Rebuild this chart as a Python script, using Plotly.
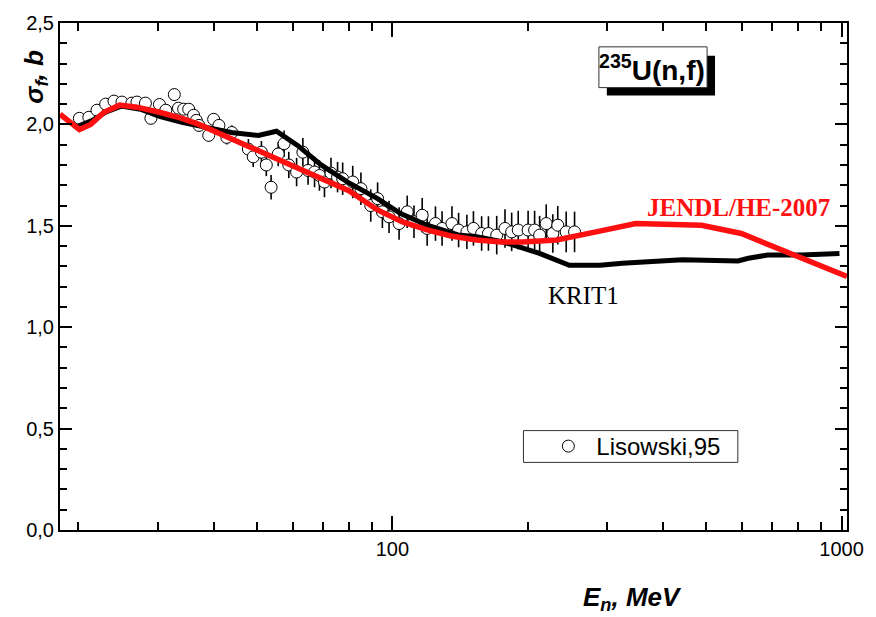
import plotly.graph_objects as go
import math

# ---------------- data ----------------
krit_E = [19.95, 21.5, 23.0, 24.9, 27.5, 30.3, 34.0, 39.0, 43.8, 50.3, 55.2, 61.6, 69.4, 79.5,
          92.7, 104.3, 119.5, 140.0, 154.0, 176.6, 212.6, 247.7, 290.0, 325.0, 442.0, 588.0,
          620.0, 685.0, 814.0, 989.0]
krit_s = [1.99, 2.02, 2.06, 2.09, 2.075, 2.04, 2.01, 1.98, 1.96, 1.945, 1.966, 1.895, 1.80, 1.715,
          1.634, 1.56, 1.503, 1.455, 1.446, 1.42, 1.364, 1.305, 1.305, 1.315, 1.332, 1.327,
          1.34, 1.356, 1.356, 1.364]

jendl_E = [18.2, 20.1, 21.3, 22.8, 24.7, 27.0, 30.3, 34.0, 37.1, 45.0, 52.0, 60.0, 70.0, 80.0,
           92.7, 105.0, 119.5, 135.0, 154.0, 175.0, 195.0, 232.0, 284.0, 348.0, 488.0, 598.0, 1028.0]
jendl_s = [2.05, 1.975, 2.00, 2.06, 2.095, 2.085, 2.06, 2.03, 2.00, 1.918, 1.857, 1.796, 1.731, 1.673,
           1.578, 1.52, 1.48, 1.45, 1.43, 1.42, 1.42, 1.43, 1.47, 1.511, 1.503, 1.462, 1.25]

lis_E = [20.1, 21.1, 22.0, 23.0, 24.0, 25.0, 26.3, 27.0, 28.2, 29.0,
         30.3, 31.3, 32.7, 33.4, 34.3, 35.2, 36.1, 36.6, 37.1, 39.0,
         40.0, 41.1, 42.8, 43.9, 47.8, 49.0, 51.1, 52.4, 53.7, 55.7,
         57.4, 58.8, 61.2, 63.2, 64.9, 67.1, 68.8, 70.6, 73.0, 75.5,
         77.5, 81.6, 85.1, 89.5, 92.7, 95.0, 98.3, 103.5, 107.9, 111.7,
         116.5, 119.5, 124.7, 129.0, 135.7, 140.4, 146.5, 151.5, 158.0, 163.6,
         170.7, 178.1, 184.3, 190.6, 200.5, 207.3, 212.7, 220.0, 227.6, 233.4,
         243.7, 254.4]
lis_s = [2.03, 2.035, 2.07, 2.10, 2.115, 2.11, 2.105, 2.11, 2.105, 2.03,
         2.098, 2.07, 2.147, 2.08, 2.075, 2.075, 2.045, 2.02, 1.995, 1.946,
         2.025, 1.995, 1.936, 1.96, 1.878, 1.84, 1.863, 1.80, 1.69, 1.854,
         1.905, 1.80, 1.765, 1.863, 1.773, 1.765, 1.748, 1.716, 1.76, 1.74,
         1.732, 1.716, 1.683, 1.60, 1.634, 1.569, 1.544, 1.511, 1.569, 1.52,
         1.552, 1.487, 1.511, 1.487, 1.511, 1.479, 1.47, 1.487, 1.462, 1.462,
         1.454, 1.487, 1.47, 1.479, 1.479, 1.479, 1.454, 1.511, 1.462, 1.503,
         1.47, 1.47]
lis_err = [0.02, 0.02, 0.02, 0.02, 0.02, 0.02, 0.02, 0.02, 0.02, 0.02,
           0.025, 0.025, 0.03, 0.025, 0.025, 0.025, 0.025, 0.03, 0.03, 0.03,
           0.03, 0.03, 0.035, 0.035, 0.05, 0.05, 0.055, 0.055, 0.06, 0.06,
           0.065, 0.065, 0.07, 0.07, 0.07, 0.075, 0.075, 0.075, 0.075, 0.075,
           0.08, 0.08, 0.08, 0.08, 0.08, 0.08, 0.08, 0.08, 0.08, 0.08,
           0.085, 0.085, 0.085, 0.085, 0.085, 0.085, 0.085, 0.085, 0.085, 0.085,
           0.095, 0.095, 0.095, 0.095, 0.095, 0.095, 0.095, 0.095, 0.095, 0.095,
           0.1, 0.1]

xtick_vals = [100, 1000]
xtick_text = ["100", "1000"]
xminor_vals = [20, 30, 40, 50, 60, 70, 80, 90, 200, 300, 400, 500, 600, 700, 800, 900]
ytick_vals = [0.0, 0.5, 1.0, 1.5, 2.0, 2.5]
ytick_text = ["0,0", "0,5", "1,0", "1,5", "2,0", "2,5"]
x_min, x_max = 18.2, 1028.0

# ---------------- layout helpers ----------------
W, H = 876, 617
L, R, T, B = 60, 853, 20, 530
def px(x):
    return (x - L) / (R - L)
def py(y):
    return (B - y) / (B - T)

SANS = "Arial, Liberation Sans, sans-serif"
SERIF = "Times New Roman, Liberation Serif, serif"

fig = go.Figure()

fig.add_trace(go.Scatter(
    x=lis_E, y=lis_s, mode="markers", name="Lisowski,95",
    marker=dict(symbol="circle", size=12, color="white", line=dict(color="black", width=1)),
    error_y=dict(type="data", array=lis_err, visible=True, color="black", thickness=1.6, width=0),
))
fig.add_trace(go.Scatter(
    x=krit_E, y=krit_s, mode="lines", name="KRIT1", showlegend=False,
    line=dict(color="black", width=5),
))
fig.add_trace(go.Scatter(
    x=jendl_E, y=jendl_s, mode="lines", name="JENDL/HE-2007", showlegend=False,
    line=dict(color="#ff1010", width=5.5),
))

axis_common = dict(showline=True, linecolor="black", linewidth=2, mirror="allticks",
                   ticks="inside", tickcolor="black", tickwidth=1.5, showgrid=False,
                   zeroline=False, tickfont=dict(family=SANS, size=20, color="black"))

fig.update_xaxes(type="log", range=[math.log10(x_min), math.log10(x_max)],
                 tickmode="array", tickvals=xtick_vals, ticktext=xtick_text, ticklen=14,
                 minor=dict(tickmode="array", tickvals=xminor_vals, ticks="inside", ticklen=8,
                            tickcolor="black", tickwidth=1.5, showgrid=False),
                 **axis_common)
fig.update_yaxes(range=[0, 2.5], tickmode="array", tickvals=ytick_vals, ticktext=ytick_text,
                 ticklen=12,
                 minor=dict(dtick=0.1, ticks="inside", ticklen=7, tickcolor="black",
                            tickwidth=1.5, showgrid=False),
                 **axis_common)

shapes = [
    # title box shadow and box
    dict(type="rect", xref="paper", yref="paper", x0=px(611), x1=px(720), y0=py(93), y1=py(53),
         fillcolor="black", line=dict(width=0), layer="above"),
    dict(type="rect", xref="paper", yref="paper", x0=px(603), x1=px(712), y0=py(85), y1=py(44),
         fillcolor="white", line=dict(color="#333", width=1), layer="above"),
    # legend frame
    dict(type="rect", xref="paper", yref="paper", x0=px(527), x1=px(743), y0=py(462), y1=py(430),
         fillcolor="white", line=dict(color="#333", width=1), layer="above"),
]

def ann(x, y, text, font, **kw):
    d = dict(x=px(x), y=py(y), xref="paper", yref="paper", showarrow=False,
             xanchor="center", yanchor="middle", text=text, font=font)
    d.update(kw)
    return d

annotations = [
    ann(657, 65, "<b><sup>235</sup>U(n,f)</b>", dict(family=SANS, size=28, color="black")),
    ann(744, 206, "<b>JENDL/HE-2007</b>", dict(family=SERIF, size=25, color="#ff1010")),
    ann(587, 294, "KRIT1", dict(family=SERIF, size=25, color="black")),
    ann(637, 599, "<b><i>E<sub>n</sub>, MeV</i></b>", dict(family=SANS, size=26, color="black")),
    ann(35, 74, "<b><i>σ<sub>f</sub>, b</i></b>", dict(family=SANS, size=26, color="black"),
        textangle=-90),
]

fig.update_layout(
    width=W, height=H,
    margin=dict(l=L, r=W - R, t=T, b=H - B, pad=0),
    paper_bgcolor="white", plot_bgcolor="white",
    showlegend=True,
    legend=dict(x=px(544), y=py(446), xanchor="left", yanchor="middle",
                borderwidth=0, bgcolor="rgba(0,0,0,0)",
                font=dict(family=SANS, size=24, color="black"), itemwidth=46),
    shapes=shapes, annotations=annotations,
)

fig.write_html("out.html")
